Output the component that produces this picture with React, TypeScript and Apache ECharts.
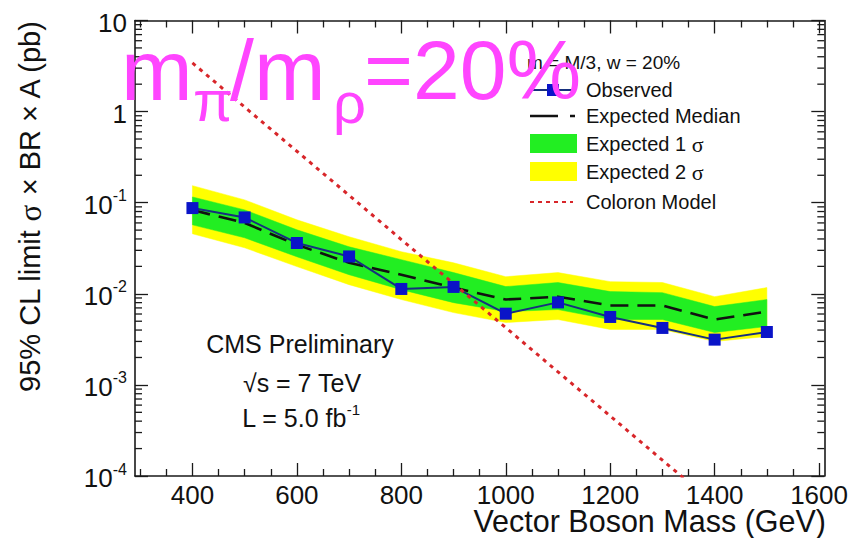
import React, { useEffect, useRef } from "react";
import * as echarts from "echarts";

// ---------- data ----------
const masses = [400, 500, 600, 700, 800, 900, 1000, 1100, 1200, 1300, 1400, 1500];
const observed = [0.0873, 0.0689, 0.0361, 0.0257, 0.0113, 0.0119, 0.00605, 0.00805, 0.00557, 0.00422, 0.00314, 0.00381];
const expectedMedian = [0.083, 0.06, 0.0345, 0.0219, 0.0162, 0.0117, 0.00865, 0.0093, 0.00743, 0.00743, 0.00522, 0.00638];
const band1Low = [0.0571, 0.0412, 0.0255, 0.0162, 0.0111, 0.008, 0.00638, 0.00671, 0.00522, 0.00522, 0.00376, 0.00438];
const band1High = [0.1156, 0.0834, 0.0504, 0.0328, 0.0237, 0.0171, 0.012, 0.0133, 0.01057, 0.0103, 0.00724, 0.00865];
const band2Low = [0.0456, 0.032, 0.0199, 0.0126, 0.00865, 0.00622, 0.00484, 0.00522, 0.00406, 0.00406, 0.003, 0.0034];
const band2High = [0.1538, 0.1074, 0.0649, 0.0423, 0.029, 0.0219, 0.0154, 0.0171, 0.0136, 0.0133, 0.0093, 0.0117];
const coloronMasses = [400, 500, 600, 700, 800, 900, 1000, 1100, 1200, 1300, 1400];
const coloron = [3.42, 1.12, 0.367, 0.1205, 0.0394, 0.01294, 0.00425, 0.00139, 0.000456, 0.000149, 0.000049];

const xMajorTicks = [400, 600, 800, 1000, 1200, 1400, 1600];
const xMinorTicks = [300, 350, 450, 500, 550, 650, 700, 750, 850, 900, 950, 1050, 1100, 1150, 1250, 1300, 1350, 1450, 1500, 1550];
const yDecades = [0.0001, 0.001, 0.01, 0.1, 1];
const yMinorMultipliers = [2, 3, 4, 5, 6, 7, 8, 9];

const FONT = "Liberation Sans";
const INK = "#111111";
const FRAME = "#1a1a1a";
const MAGENTA = "#ff45ff";
const GREEN = "#22ee22";
const YELLOW = "#ffff00";

function bandSeries(name: string, lo: number[], hi: number[], color: string) {
  const rows = masses.map((m, i) => [m, lo[i], hi[i]]);
  return {
    type: "custom",
    name,
    silent: true,
    data: rows,
    encode: { x: 0, y: [1, 2] },
    renderItem: (params: any, api: any) => {
      if (params.dataIndex !== 0) return null;
      const upper = rows.map((r) => api.coord([r[0], r[2]]));
      const lower = rows.map((r) => api.coord([r[0], r[1]])).reverse();
      return {
        type: "polygon",
        shape: { points: upper.concat(lower) },
        style: { fill: color, stroke: color, lineWidth: 0.5 },
      };
    },
  };
}

export default function App() {
  const ref = useRef<HTMLDivElement>(null);

  useEffect(() => {
    if (!ref.current) return;
    const chart = echarts.init(ref.current, undefined, { renderer: "svg" });

    const pair = (xs: number[], ys: number[]) => xs.map((x, i) => [x, ys[i]]);
    const yMinor: number[][] = [];
    yDecades.forEach((d) => yMinorMultipliers.forEach((k) => yMinor.push([masses[0], d * k])));

    const xBase = { type: "value", min: 290, max: 1610, splitLine: { show: false } };
    const tickStyle = { color: FRAME, width: 1.3 };
    const xAxes = [
      {
        ...xBase,
        position: "bottom",
        axisLine: { show: true, lineStyle: { color: FRAME, width: 1.6 } },
        axisTick: { show: true, inside: true, length: 13, customValues: xMajorTicks, lineStyle: tickStyle },
        axisLabel: {
          show: true,
          customValues: xMajorTicks,
          fontSize: 26,
          color: INK,
          fontFamily: FONT,
          margin: 6,
          formatter: (v: number) => String(Math.round(v)),
        },
      },
      {
        ...xBase,
        position: "bottom",
        axisLine: { show: false },
        axisTick: { show: true, inside: true, length: 7, customValues: xMinorTicks, lineStyle: tickStyle },
        axisLabel: { show: false },
      },
      {
        ...xBase,
        position: "top",
        axisLine: { show: true, lineStyle: { color: FRAME, width: 1.6 } },
        axisTick: { show: true, inside: true, length: 13, customValues: xMajorTicks, lineStyle: tickStyle },
        axisLabel: { show: false },
      },
      {
        ...xBase,
        position: "top",
        axisLine: { show: false },
        axisTick: { show: true, inside: true, length: 7, customValues: xMinorTicks, lineStyle: tickStyle },
        axisLabel: { show: false },
      },
    ];

    const yBase = { type: "log", logBase: 10, min: 0.0001, max: 10, splitLine: { show: false } };
    const yAxes = [
      {
        ...yBase,
        position: "left",
        axisLine: { show: true, lineStyle: { color: FRAME, width: 1.6 } },
        axisTick: { show: true, inside: true, length: 13, lineStyle: tickStyle },
        axisLabel: {
          show: true,
          margin: 8,
          color: INK,
          fontFamily: FONT,
          fontSize: 26,
          formatter: (v: number) => {
            const k = Math.round(Math.log10(v));
            if (k === 1) return "{b|10}";
            if (k === 0) return "{b|1}";
            return "{b|10}{s|" + k + "}";
          },
          rich: {
            b: { fontSize: 26, fontFamily: FONT, color: INK, verticalAlign: "bottom", lineHeight: 30 },
            s: { fontSize: 16, fontFamily: FONT, color: INK, verticalAlign: "top", lineHeight: 18 },
          },
        },
      },
      {
        ...yBase,
        position: "right",
        axisLine: { show: true, lineStyle: { color: FRAME, width: 1.6 } },
        axisTick: { show: true, inside: true, length: 13, lineStyle: tickStyle },
        axisLabel: { show: false },
      },
    ];

    const option: any = {
      animation: false,
      backgroundColor: "#ffffff",
      grid: { left: 135, right: 24.5, top: 20.5, bottom: 62, containLabel: false },
      xAxis: xAxes,
      yAxis: yAxes,
      series: [
        bandSeries("Expected 2σ", band2Low, band2High, YELLOW),
        bandSeries("Expected 1σ", band1Low, band1High, GREEN),
        {
          type: "line",
          name: "Expected Median",
          data: pair(masses, expectedMedian),
          showSymbol: false,
          lineStyle: { color: "#111111", width: 2.6, type: [18, 9] },
        },
        {
          type: "line",
          name: "Observed",
          data: pair(masses, observed),
          symbol: "rect",
          symbolSize: 12,
          showSymbol: true,
          itemStyle: { color: "#0a14c8" },
          lineStyle: { color: "#16307e", width: 2 },
        },
        {
          type: "line",
          name: "Coloron Model",
          data: pair(coloronMasses, coloron),
          showSymbol: false,
          clip: true,
          lineStyle: { color: "#d8262a", width: 3, type: [4, 5] },
        },
        {
          type: "custom",
          name: "yMinorTicks",
          silent: true,
          clip: false,
          data: yMinor,
          renderItem: (params: any, api: any) => {
            const cs = params.coordSys;
            const y = api.coord([api.value(0), api.value(1)])[1];
            const st = { stroke: FRAME, lineWidth: 1.3 };
            return {
              type: "group",
              children: [
                { type: "line", shape: { x1: cs.x, y1: y, x2: cs.x + 7, y2: y }, style: st },
                { type: "line", shape: { x1: cs.x + cs.width - 7, y1: y, x2: cs.x + cs.width, y2: y }, style: st },
              ],
            };
          },
        },
      ],
      graphic: [
        // big magenta title
        { type: "text", x: 121, y: 70, z: 100, style: { text: "m", fontSize: 86, fontFamily: FONT, fill: MAGENTA, align: "left", verticalAlign: "middle" } },
        { type: "text", x: 193, y: 100, z: 100, style: { text: "π", fontSize: 58, fontFamily: FONT, fill: MAGENTA, align: "left", verticalAlign: "middle" } },
        { type: "text", x: 230, y: 70, z: 100, style: { text: "/m", fontSize: 86, fontFamily: FONT, fill: MAGENTA, align: "left", verticalAlign: "middle" } },
        { type: "text", x: 333, y: 102, z: 100, style: { text: "ρ", fontSize: 58, fontFamily: FONT, fill: MAGENTA, align: "left", verticalAlign: "middle" } },
        { type: "text", x: 364, y: 70, z: 100, style: { text: "=20%", fontSize: 84, fontFamily: FONT, fill: MAGENTA, align: "left", verticalAlign: "middle" } },

        // legend
        { type: "text", x: 527, y: 62, z: 50, style: { text: "m = M/3, w = 20%", fontSize: 19, fontFamily: FONT, fill: INK, align: "left", verticalAlign: "middle" } },
        { type: "line", z: 50, shape: { x1: 530, y1: 90, x2: 575, y2: 90 }, style: { stroke: "#16307e", lineWidth: 2 } },
        { type: "rect", z: 51, shape: { x: 547, y: 84, width: 12, height: 12 }, style: { fill: "#0a14c8" } },
        { type: "text", x: 586, y: 90, z: 50, style: { text: "Observed", fontSize: 20, fontFamily: FONT, fill: INK, align: "left", verticalAlign: "middle" } },
        { type: "line", z: 50, shape: { x1: 530, y1: 116, x2: 575, y2: 116 }, style: { stroke: "#111111", lineWidth: 2.6, lineDash: [28, 12] } },
        { type: "text", x: 586, y: 116, z: 50, style: { text: "Expected Median", fontSize: 20, fontFamily: FONT, fill: INK, align: "left", verticalAlign: "middle" } },
        { type: "rect", z: 50, shape: { x: 530, y: 134, width: 47, height: 19 }, style: { fill: GREEN } },
        {
          type: "text", x: 586, y: 144, z: 50,
          style: {
            text: "{a|Expected 1 }{g|σ}", align: "left", verticalAlign: "middle",
            rich: { a: { fontSize: 20, fontFamily: FONT, fill: INK }, g: { fontSize: 22, fontFamily: "Liberation Serif", fill: INK } },
          },
        },
        { type: "rect", z: 50, shape: { x: 530, y: 162, width: 47, height: 19 }, style: { fill: YELLOW } },
        {
          type: "text", x: 586, y: 172, z: 50,
          style: {
            text: "{a|Expected 2 }{g|σ}", align: "left", verticalAlign: "middle",
            rich: { a: { fontSize: 20, fontFamily: FONT, fill: INK }, g: { fontSize: 22, fontFamily: "Liberation Serif", fill: INK } },
          },
        },
        { type: "line", z: 50, shape: { x1: 530, y1: 202, x2: 573, y2: 202 }, style: { stroke: "#d8262a", lineWidth: 2, lineDash: [4, 4] } },
        { type: "text", x: 586, y: 202, z: 50, style: { text: "Coloron Model", fontSize: 20, fontFamily: FONT, fill: INK, align: "left", verticalAlign: "middle" } },

        // CMS annotations
        { type: "text", x: 300, y: 344, z: 50, style: { text: "CMS Preliminary", fontSize: 25, fontFamily: FONT, fill: INK, align: "center", verticalAlign: "middle" } },
        { type: "text", x: 302, y: 383, z: 50, style: { text: "√s = 7 TeV", fontSize: 25, fontFamily: FONT, fill: INK, align: "center", verticalAlign: "middle" } },
        {
          type: "text", x: 301, y: 416, z: 50,
          style: {
            text: "{a|L = 5.0 fb}{s|-1}", align: "center", verticalAlign: "middle",
            rich: {
              a: { fontSize: 25, fontFamily: FONT, fill: INK, verticalAlign: "bottom", lineHeight: 28 },
              s: { fontSize: 15, fontFamily: FONT, fill: INK, verticalAlign: "top", lineHeight: 16 },
            },
          },
        },

        // axis titles
        { type: "text", x: 826, y: 521, z: 50, style: { text: "Vector Boson Mass (GeV)", fontSize: 30.5, fontFamily: FONT, fill: INK, align: "right", verticalAlign: "middle" } },
        {
          type: "text", x: 30, y: 206, z: 50, rotation: Math.PI / 2,
          style: {
            text: "{a|95% CL limit }{g|σ}{a| × BR × A (pb)}", align: "center", verticalAlign: "middle",
            rich: { a: { fontSize: 29, fontFamily: FONT, fill: INK }, g: { fontSize: 31, fontFamily: "Liberation Serif", fill: INK } },
          },
        },
      ],
    };

    chart.setOption(option);
    return () => chart.dispose();
  }, []);

  return <div ref={ref} style={{ position: "fixed", left: 0, top: 0, width: 851, height: 538, background: "#fff" }} />;
}
